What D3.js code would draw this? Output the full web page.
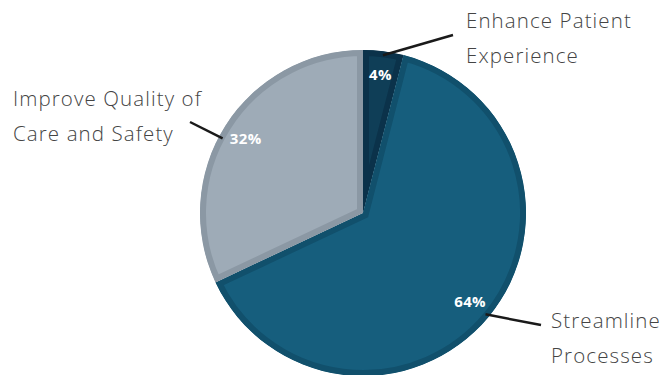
<!DOCTYPE html>
<html><head><meta charset="utf-8">
<script src="https://cdn.jsdelivr.net/npm/d3@7"></script>
<style>body{margin:0;background:#fff;}svg{display:block;}</style>
</head><body>
<svg id="chart" width="663" height="375"></svg>
<script>
const categories = ["Enhance Patient Experience", "Streamline Processes", "Improve Quality of Care and Safety"];
const values = [4, 64, 32];
const labelLines = [["Enhance Patient", "Experience"], ["Streamline", "Processes"], ["Improve Quality of", "Care and Safety"]];
const fills = ["#0f3e57", "#165e7d", "#9eabb7"];
const borders = ["#0b324a", "#11506c", "#8b98a4"];

const W = 663, H = 375, cx = 363, cy = 213, R = 163;
const svg = d3.select("#chart");
const g = svg.append("g").attr("transform", `translate(${cx},${cy})`);
const pie = d3.pie().sort(null).value(d => d)(values);
const arc = d3.arc().innerRadius(0).outerRadius(R);
const defs = svg.append("defs");

pie.forEach((d, i) => {
  defs.append("clipPath").attr("id", "clip" + i)
    .append("path").attr("d", arc(d));
  g.append("path").attr("d", arc(d)).attr("fill", fills[i])
    .attr("stroke", borders[i]).attr("stroke-width", 12)
    .attr("clip-path", `url(#clip${i})`);
});

const labelArc = d3.arc().innerRadius(139).outerRadius(139);
pie.forEach((d, i) => {
  const [x, y] = labelArc.centroid(d);
  g.append("text").attr("x", x).attr("y", y).attr("dy", "0.35em")
    .attr("text-anchor", "middle").attr("fill", "#fff")
    .attr("font-family", "'Open Sans', Lato, sans-serif").attr("font-weight", 700)
    .attr("font-size", 15).attr("letter-spacing", 0.4).text(d.data + "%");
});

// leader lines and category labels
const lineEnds = [[453, 35], [541, 325], [190, 122]];
const lineAngleShift = [0, 0, -0.077];
const textPos = [[466, 28, "start"], [551, 328, "start"], [13, 106, "start"]];
pie.forEach((d, i) => {
  const a = (d.startAngle + d.endAngle) / 2 + lineAngleShift[i];
  const sx = Math.sin(a) * (R - 4), sy = -Math.cos(a) * (R - 4);
  svg.append("line").attr("x1", cx + sx).attr("y1", cy + sy)
    .attr("x2", lineEnds[i][0]).attr("y2", lineEnds[i][1])
    .attr("stroke", "#1a1a1a").attr("stroke-width", 2.5);
  const t = svg.append("text").attr("x", textPos[i][0]).attr("y", textPos[i][1])
    .attr("text-anchor", textPos[i][2]).attr("fill", "#444")
    .attr("font-family", "'Open Sans', Lato, sans-serif").attr("font-weight", 300)
    .attr("font-size", 20.5).attr("letter-spacing", 1.1);
  labelLines[i].forEach((s, k) => {
    t.append("tspan").attr("x", textPos[i][0]).attr("dy", k === 0 ? 0 : 34.5).text(s);
  });
});
</script>
</body></html>
